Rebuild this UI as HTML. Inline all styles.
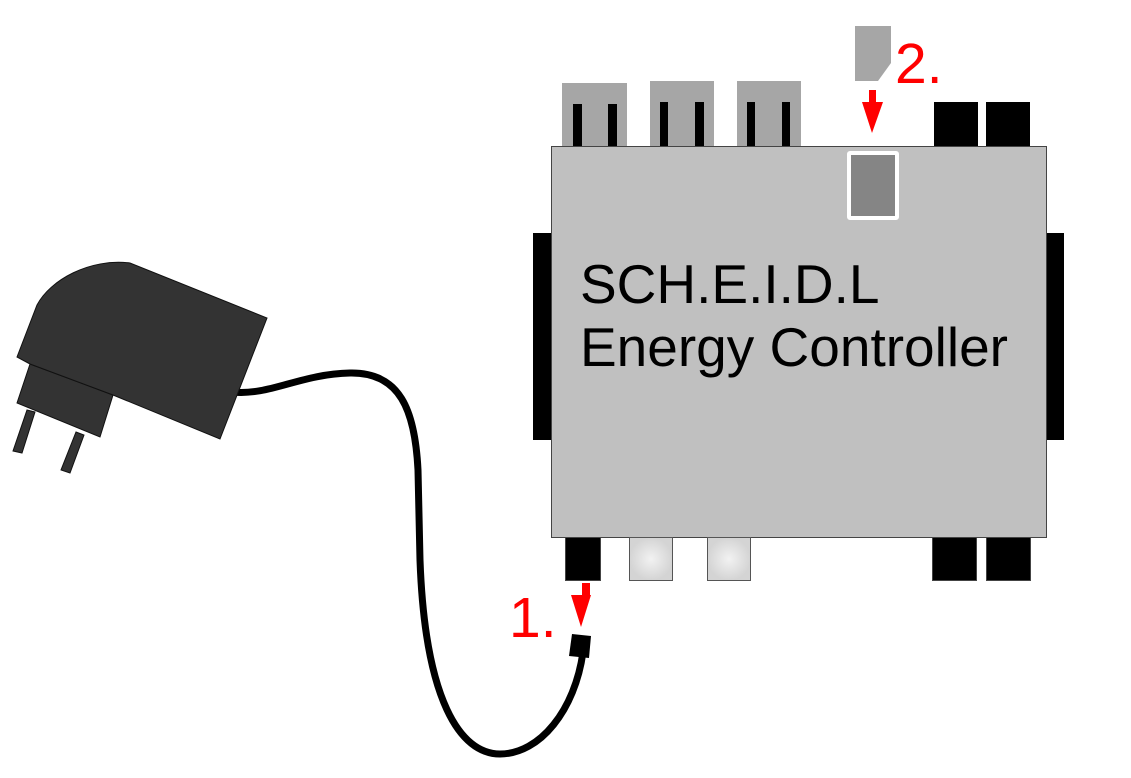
<!DOCTYPE html>
<html><head><style>body{margin:0;background:#fff}svg{display:block}</style></head>
<body>
<svg width="1131" height="778" viewBox="0 0 1131 778" xmlns="http://www.w3.org/2000/svg">
<defs><radialGradient id="g"><stop offset="0" stop-color="#f2f2f2"/><stop offset="1" stop-color="#d4d4d4"/></radialGradient></defs>
<rect x="562" y="83" width="65" height="64" fill="#a6a6a6"/>
<rect x="650" y="81" width="64" height="66" fill="#a6a6a6"/>
<rect x="737" y="81" width="64" height="66" fill="#a6a6a6"/>
<g fill="#000">
<rect x="573" y="104" width="9" height="44"/><rect x="608" y="104" width="9" height="44"/>
<rect x="660" y="102" width="8" height="45"/><rect x="695" y="102" width="9" height="45"/>
<rect x="747" y="102" width="8" height="45"/><rect x="782" y="102" width="8" height="45"/>
<rect x="934" y="102" width="44" height="45"/><rect x="986" y="102" width="44" height="45"/>
<rect x="533" y="233" width="20" height="207"/><rect x="1044" y="233" width="20" height="207"/>
</g>
<rect x="551.5" y="146.5" width="495" height="391" fill="#c0c0c0" stroke="#444" stroke-width="1"/>
<rect x="849" y="153" width="48" height="65" fill="#858585" stroke="#fff" stroke-width="4" rx="1"/>
<polygon points="855,26 891,26 891,63 878,81 855,81" fill="#a6a6a6"/>
<g fill="red">
<rect x="869" y="90" width="7" height="13"/><polygon points="862,102 883,102 872,133"/>
<rect x="582" y="583" width="8" height="13"/><polygon points="571,595 591,595 581,627"/>
</g>
<text x="895" y="83" font-family="Liberation Sans, sans-serif" font-size="57" fill="red">2.</text>
<text x="509" y="637" font-family="Liberation Sans, sans-serif" font-size="57" fill="red">1.</text>
<g fill="#000" stroke="#444" stroke-width="1">
<rect x="565.5" y="537.5" width="35" height="43"/>
<rect x="932.5" y="537.5" width="44" height="43"/><rect x="986.5" y="537.5" width="44" height="43"/>
</g>
<rect x="629.5" y="537.5" width="43" height="43" fill="url(#g)" stroke="#555"/>
<rect x="707.5" y="537.5" width="43" height="43" fill="url(#g)" stroke="#555"/>
<text x="580" y="303" font-family="Liberation Sans, sans-serif" font-size="55" fill="#000">SCH.E.I.D.L</text>
<text x="580" y="366" font-family="Liberation Sans, sans-serif" font-size="55" fill="#000">Energy Controller</text>
<path d="M232,392 C270,396 300,374 350,373 C400,372 415,410 418,470 L420,560 C425,700 460,754 500,754 C540,754 575,710 583,652" fill="none" stroke="#000" stroke-width="7"/>
<polygon points="572,634 591,636 589,658 569,656" fill="#000"/>
<g fill="#333" stroke="#111" stroke-width="1">
<polygon points="27,410 35,412 22,453 13,451"/>
<polygon points="76,432 84,435 70,473 61,470"/>
<polygon points="17,403 30,364 113,395 100,437"/>
<path d="M17,357 L37,305 C50,280 90,258 130,263 L267,318 L220,439 L113,395 L30,364 Z"/>
</g>
</svg>
</body></html>
